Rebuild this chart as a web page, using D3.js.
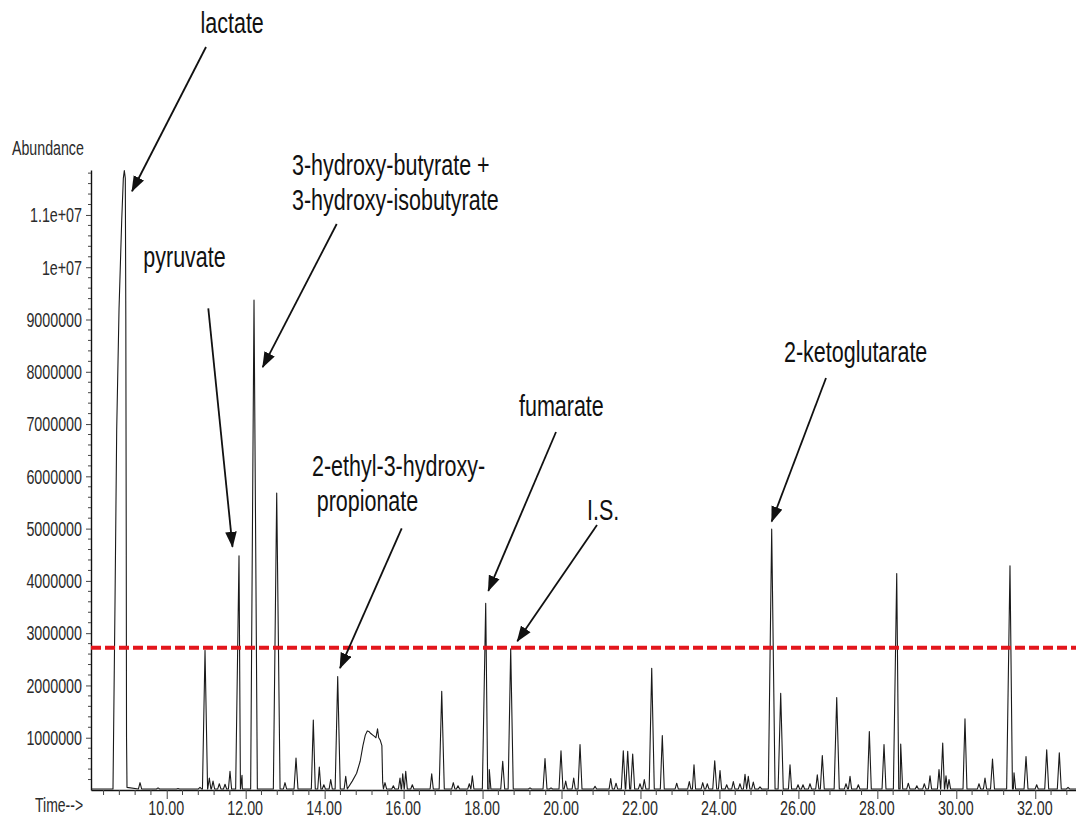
<!DOCTYPE html>
<html>
<head>
<meta charset="utf-8">
<script src="https://cdn.jsdelivr.net/npm/d3@7"></script>
<style>
  body { margin: 0; background: #fff; }
  svg { display: block; font-family: "Liberation Sans", Arial, sans-serif; }
</style>
</head>
<body>
<svg id="chart"></svg>
<script>
// DATOS (tiempo en min, abundancia)
const peakTimes = [
  9.324, 9.780, 10.286, 10.843, 10.970, 11.079, 11.173, 11.332, 11.477, 11.603,
  11.831, 11.907, 12.211, 12.786, 12.996, 13.275, 13.713, 13.865, 13.980, 14.154,
  14.331, 14.534, 15.529, 15.740, 15.909, 15.978, 16.054, 16.221, 16.712, 16.966,
  17.259, 17.378, 17.665, 17.741, 18.080, 18.171, 18.511, 18.713, 19.202, 19.582,
  19.734, 19.987, 20.106, 20.309, 20.469, 20.849, 21.246, 21.381, 21.565, 21.677,
  21.803, 21.988, 22.097, 22.285, 22.553, 22.918, 23.237, 23.356, 23.577, 23.693,
  23.881, 24.015, 24.184, 24.352, 24.520, 24.648, 24.731, 24.858, 25.028, 25.324,
  25.552, 25.788, 25.991, 26.117, 26.294, 26.479, 26.606, 26.971, 27.206, 27.308,
  27.518, 27.797, 28.169, 28.491, 28.592, 28.784, 29.000, 29.190, 29.334, 29.562,
  29.656, 29.739, 29.815, 30.220, 30.575, 30.727, 30.917, 31.360, 31.462, 31.766,
  32.036, 32.290, 32.609, 32.830
];
const peakHeights = [
  140000, 40000, 30000, 50000, 2670000, 230000, 170000, 120000, 110000, 360000,
  4480000, 280000, 9370000, 5680000, 140000, 610000, 1340000, 440000, 100000, 200000,
  2170000, 260000, 140000, 80000, 230000, 310000, 360000, 100000, 310000, 1890000,
  140000, 80000, 120000, 270000, 3570000, 390000, 550000, 2700000, 40000, 600000,
  40000, 750000, 170000, 230000, 870000, 70000, 220000, 130000, 750000, 740000,
  690000, 120000, 200000, 2330000, 1040000, 130000, 160000, 480000, 140000, 120000,
  560000, 370000, 100000, 160000, 120000, 300000, 260000, 150000, 60000, 4990000,
  1850000, 480000, 100000, 100000, 120000, 290000, 660000, 1770000, 120000, 260000,
  100000, 1120000, 870000, 4140000, 880000, 130000, 80000, 120000, 270000, 390000,
  900000, 270000, 200000, 1360000, 120000, 230000, 590000, 4290000, 330000, 640000,
  100000, 770000, 710000, 50000
];

// pico saturado de lactato
const lactateTimes = [8.639, 8.689, 8.733, 8.792, 8.860, 8.901, 8.926, 8.951, 8.964, 8.974, 8.982, 8.994];
const lactateValues = [20000, 3500000, 6900000, 9200000, 10900000, 11700000, 11850000, 11700000, 9000000, 5000000, 1000000, 50000];

// joroba ancha 14.6 - 15.5 min
const humpTimes = [14.56, 14.70, 14.81, 14.90, 14.97, 15.03, 15.08, 15.12, 15.17, 15.22, 15.27, 15.30, 15.34, 15.37, 15.41, 15.45, 15.47];
const humpValues = [100000, 170000, 320000, 550000, 850000, 1050000, 1130000, 1120000, 1080000, 1050000, 1020000, 1000000, 1170000, 1000000, 950000, 850000, 150000];

// ejes
const yTickValues = [1000000, 2000000, 3000000, 4000000, 5000000, 6000000, 7000000, 8000000, 9000000, 10000000, 11000000];
const yTickLabels = ["1000000", "2000000", "3000000", "4000000", "5000000", "6000000", "7000000", "8000000", "9000000", "1e+07", "1.1e+07"];
const xTickValues = [10, 12, 14, 16, 18, 20, 22, 24, 26, 28, 30, 32];

// linea umbral
const threshold = 2720000;

// compuestos anotados
const compoundLabels = [["lactate"], ["pyruvate"], ["3-hydroxy-butyrate +", "3-hydroxy-isobutyrate"],
  ["2-ethyl-3-hydroxy-", "propionate"], ["fumarate"], ["I.S."], ["2-ketoglutarate"]];
const compoundTimes = [8.926, 11.831, 12.211, 14.331, 18.080, 18.713, 25.324];
const compoundHeights = [11850000, 4480000, 9370000, 2170000, 3570000, 2700000, 4990000];

// VARIABLES GLOBALES
const width = 1076;
const height = 820;
const stretch = 1.4; // la figura original esta estirada en vertical

const svg = d3.select("#chart")
  .attr("width", width)
  .attr("height", height);

// ESCALAS
const x = d3.scaleLinear().domain([8.082, 33.032]).range([91, 1076]);
const y = d3.scaleLinear().domain([0, 11860000]).range([790, 170]);

// EJE Y
const yAxis = svg.append("g")
  .attr("transform", "translate(91,0)")
  .call(d3.axisLeft(y)
    .tickValues(yTickValues)
    .tickFormat((d, i) => yTickLabels[i])
    .tickSize(5)
    .tickSizeOuter(0));
yAxis.selectAll(".tick text")
  .attr("x", -9)
  .attr("dy", "0.34em")
  .attr("transform", `scale(1,${stretch})`)
  .style("font-size", "14.3px")
  .attr("fill", "#2b2b2b");

// ticks menores y
yAxis.selectAll(".minor")
  .data(d3.range(200000, 11860000, 200000).filter(v => Math.round(v / 1e5) % 10 !== 0))
  .enter()
  .append("line")
  .attr("class", "minor")
  .attr("x1", -3).attr("x2", 0)
  .attr("y1", d => y(d)).attr("y2", d => y(d))
  .attr("stroke", "#444");

// EJE X
const xAxis = svg.append("g")
  .attr("transform", `translate(0,${y(0)})`)
  .call(d3.axisBottom(x)
    .tickValues(xTickValues)
    .tickFormat(d3.format(".2f"))
    .tickSize(9)
    .tickSizeOuter(0));
xAxis.selectAll(".tick text")
  .attr("y", 17.6)
  .attr("dy", 0)
  .attr("x", -1)
  .attr("transform", `scale(1,${stretch})`)
  .style("font-size", "14.3px")
  .attr("fill", "#2b2b2b");

// ticks menores x
xAxis.selectAll(".minor")
  .data(d3.range(8.4, 33.01, 0.4).filter(v => Math.abs(v / 2 - Math.round(v / 2)) > 0.01))
  .enter()
  .append("line")
  .attr("class", "minor")
  .attr("x1", d => x(d)).attr("x2", d => x(d))
  .attr("y1", 0).attr("y2", 5)
  .attr("stroke", "#444");

svg.selectAll(".domain").attr("stroke", "#111").attr("stroke-width", 1.4);
svg.selectAll(".tick line").attr("stroke", "#444");

// TITULOS DE EJES
svg.append("text")
  .attr("transform", `translate(12,155) scale(1,${stretch})`)
  .style("font-size", "14.2px")
  .attr("fill", "#2b2b2b")
  .text("Abundance");
svg.append("text")
  .attr("transform", `translate(35,812) scale(1,${stretch})`)
  .style("font-size", "14px")
  .attr("fill", "#2b2b2b")
  .text("Time-->");

// CROMATOGRAMA
const baseLevel = 20000;
const points = [];
peakTimes.forEach((t, i) => {
  const h = peakHeights[i];
  const w = h >= 3000000 ? 0.085 : h >= 1500000 ? 0.065 : h >= 500000 ? 0.05 : 0.04;
  points.push([t - w, baseLevel], [t, h], [t + w, baseLevel]);
});
lactateTimes.forEach((t, i) => points.push([t, lactateValues[i]]));
humpTimes.forEach((t, i) => points.push([t, humpValues[i]]));
points.push([x.domain()[0], baseLevel], [x.domain()[1], baseLevel]);
points.sort((a, b) => a[0] - b[0]);

const line = d3.line()
  .x(d => x(d[0]))
  .y(d => y(d[1]));

svg.append("path")
  .datum(points)
  .attr("d", line)
  .attr("fill", "none")
  .attr("stroke", "#1a1a1a")
  .attr("stroke-width", 1.1)
  .attr("stroke-linejoin", "round");

// LINEA ROJA DISCONTINUA
svg.append("line")
  .attr("x1", x.range()[0]).attr("x2", x.range()[1])
  .attr("y1", y(threshold)).attr("y2", y(threshold))
  .attr("stroke", "#e3161c")
  .attr("stroke-width", 4)
  .attr("stroke-dasharray", "10,4");

// FLECHAS Y ETIQUETAS
svg.append("defs").append("marker")
  .attr("id", "head")
  .attr("markerUnits", "userSpaceOnUse")
  .attr("viewBox", "0 -6 16 12")
  .attr("refX", 15).attr("refY", 0)
  .attr("markerWidth", 16).attr("markerHeight", 12)
  .attr("orient", "auto")
  .append("path")
  .attr("d", "M0,-5.8L16,0L0,5.8Z")
  .attr("fill", "#111");

// posicion del texto, inicio de flecha y desplazamiento de la punta respecto al pico
const layout = [
  { text: [[200.5, 33.3]], from: [206, 47], tip: [7.7, 20.7] },
  { text: [[143.3, 266.7]], from: [208.3, 308.3], tip: [-6.5, -9] },
  { text: [[292, 175], [292, 210]], from: [336.7, 224], tip: [8.7, 67] },
  { text: [[312, 476], [316.7, 511]], from: [401.7, 528.3], tip: [2.3, -8.4] },
  { text: [[519, 415.5]], from: [556, 432], tip: [2.6, -12.6] },
  { text: [[587, 520]], from: [597, 525], tip: [6.6, -7.6] },
  { text: [[784, 362]], from: [826, 378], tip: [0, -7.6] }
];

compoundLabels.forEach((lines, i) => {
  const L = layout[i];
  lines.forEach((str, j) => {
    svg.append("text")
      .attr("transform", `translate(${L.text[j][0]},${L.text[j][1]}) scale(1,1.38)`)
      .style("font-size", "21.5px")
      .attr("fill", "#111")
      .text(str);
  });
  svg.append("line")
    .attr("x1", L.from[0]).attr("y1", L.from[1])
    .attr("x2", x(compoundTimes[i]) + L.tip[0])
    .attr("y2", y(compoundHeights[i]) + L.tip[1])
    .attr("stroke", "#111")
    .attr("stroke-width", 1.8)
    .attr("marker-end", "url(#head)");
});
</script>
</body>
</html>
